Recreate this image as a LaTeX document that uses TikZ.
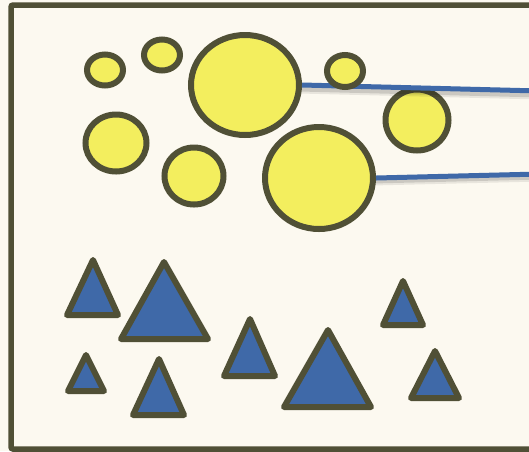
\documentclass[tikz,border=0pt]{standalone}
\usetikzlibrary{shapes.geometric}
\definecolor{bgcream}{HTML}{FCF9F0}
\definecolor{olive}{HTML}{505036}
\definecolor{sunyellow}{HTML}{F3EE5E}
\definecolor{skyblue}{HTML}{3F69A8}
\tikzset{
  disc/.style={ellipse, draw=olive, fill=sunyellow, line width=6pt, inner sep=0pt},
  tri/.style={draw=olive, fill=skyblue, line width=6pt, line join=round},
  link/.style={draw=skyblue, line width=5pt},
  linkshadow/.style={draw=black, opacity=0.12, line width=5pt},
  frame/.style={draw=olive, line width=5.5pt, rounded corners=2pt}
}
\begin{document}
\begin{tikzpicture}[x=1pt,y=-1pt]
\useasboundingbox (0,0) rectangle (529,451);
\clip (0,0) rectangle (529,451);
\fill[bgcream] (0,0) rectangle (529,451);
\draw[frame] (11,5) rectangle (560,449);
% circles
\node[disc, minimum width=36pt, minimum height=31pt] (c1) at (105,70) {};
\node[disc, minimum width=36pt, minimum height=31pt] (c2) at (162,55) {};
\node[disc, minimum width=63pt, minimum height=61pt] (c5) at (417,120) {};
\node[disc, minimum width=61pt, minimum height=57pt] (c6) at (116,143) {};
\node[disc, minimum width=59pt, minimum height=57pt] (c7) at (194,176) {};
\coordinate (e1) at (540,91);
\coordinate (e2) at (540,174);
% link shadows
\draw[linkshadow] ([yshift=-3pt]300,86) -- ([yshift=-3pt]540,92);
\draw[linkshadow, opacity=0.08, line width=7pt] ([yshift=-4pt]300,86) -- ([yshift=-4pt]540,92);
\draw[linkshadow] ([yshift=-3pt]372,178) -- ([yshift=-3pt]540,174);
\draw[linkshadow, opacity=0.08, line width=7pt] ([yshift=-4pt]372,178) -- ([yshift=-4pt]540,174);
\node[disc, minimum width=108pt, minimum height=100pt] (c3) at (245,85) {};
\node[disc, minimum width=108pt, minimum height=102pt] (c8) at (319,178) {};
\draw[link] (c3.east) -- (e1);
\draw[link] (c8.east) -- (e2);
\node[disc, minimum width=36pt, minimum height=32pt] (c4) at (345,71) {};
% triangles
\draw[tri] (93,260) -- (118,315) -- (67,315) -- cycle;
\draw[tri] (164,262) -- (208,339) -- (121,339) -- cycle;
\draw[tri] (403,281) -- (423,325) -- (383,325) -- cycle;
\draw[tri] (86,355) -- (104,391) -- (68,391) -- cycle;
\draw[tri] (159,359) -- (184,415) -- (133,415) -- cycle;
\draw[tri] (250,319) -- (275,376) -- (224,376) -- cycle;
\draw[tri] (328,330) -- (371,407) -- (284,407) -- cycle;
\draw[tri] (435,351) -- (459,398) -- (411,398) -- cycle;
\end{tikzpicture}
\end{document}
